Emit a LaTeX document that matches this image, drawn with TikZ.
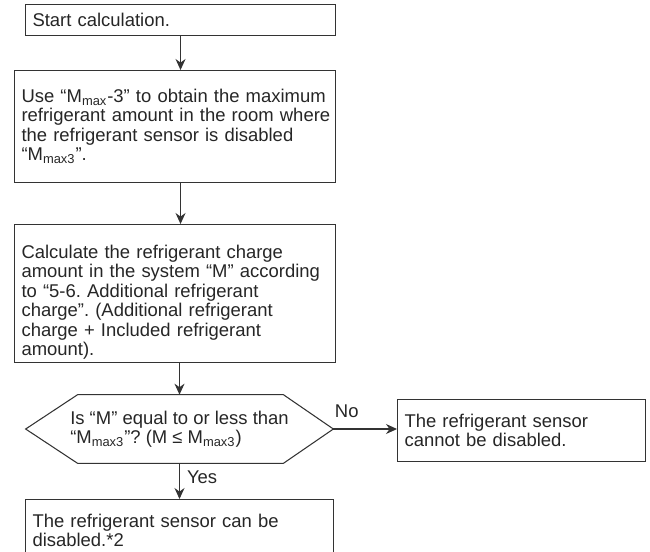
\documentclass[tikz,border=0pt]{standalone}
\usepackage{fontspec}
\setmainfont{Liberation Sans}
\usetikzlibrary{arrows.meta}
\frenchspacing

\begin{document}
\begin{tikzpicture}[
    font=\fontsize{10.5}{11.1}\selectfont,
    box/.style={rectangle, draw=black!80, text=black!85, line width=0.6pt, align=left, inner xsep=0.14cm, inner ysep=0.06cm, anchor=north west},
    arrow/.style={-{Stealth[length=2.2mm, width=2mm]}, draw=black!80, line width=0.6pt},
    lbl/.style={text=black!85, inner sep=2pt}
]
\useasboundingbox (0,0) rectangle (13,-11.02);

% Steps
\node[box, text width=5.92cm, minimum height=0.62cm] (start) at (0.5,-0.08) {Start calculation.};
\node[box, text width=6.14cm, minimum height=2.24cm] (use) at (0.28,-1.40) {Use “M\textsubscript{max}-3” to obtain the maximum\\\mbox{refrigerant amount in the room where}\\the refrigerant sensor is disabled\\“M\textsubscript{max3}”.};
\node[box, text width=6.14cm, text height=0.61cm] (calc) at (0.28,-4.48) {Calculate the refrigerant charge\\amount in the system “M” according\\to “5-6. Additional refrigerant\\charge”. (Additional refrigerant\\charge + Included refrigerant\\amount).};

% Decision
\node[text=black!85, align=left, minimum width=6.14cm, minimum height=1.36cm] (check) at (3.59,-8.58) {Is “M” equal to or less than\\“M\textsubscript{max3}”? (M ≤ M\textsubscript{max3})};
\draw[draw=black!80, line width=0.6pt] (check.west) -- ([xshift=1.04cm]check.north west) -- ([xshift=-1.0cm]check.north east) -- (check.east) -- ([xshift=-1.0cm]check.south east) -- ([xshift=1.04cm]check.south west) -- cycle;

% Results
\node[box, text width=4.68cm, minimum height=1.24cm] (no) at (7.94,-7.98) {The refrigerant sensor\\cannot be disabled.};
\node[box, text width=5.88cm, minimum height=1.24cm] (yes) at (0.5,-9.98) {The refrigerant sensor can be\\disabled.*2};

% Arrows
\draw[arrow] (start) -- (start |- use.north);
\draw[arrow] (use.south -| start) -- (calc.north -| start);
\draw[arrow] (calc.south -| check) -- (check.north);
\draw[arrow] (check.east) -- (check.east -| no.west) node[lbl, pos=0.21, above=4pt] {No};
\draw[arrow] (check.south) -- (yes.north -| check.south) node[lbl, pos=0.4, right, xshift=2pt] {Yes};

\end{tikzpicture}
\end{document}
